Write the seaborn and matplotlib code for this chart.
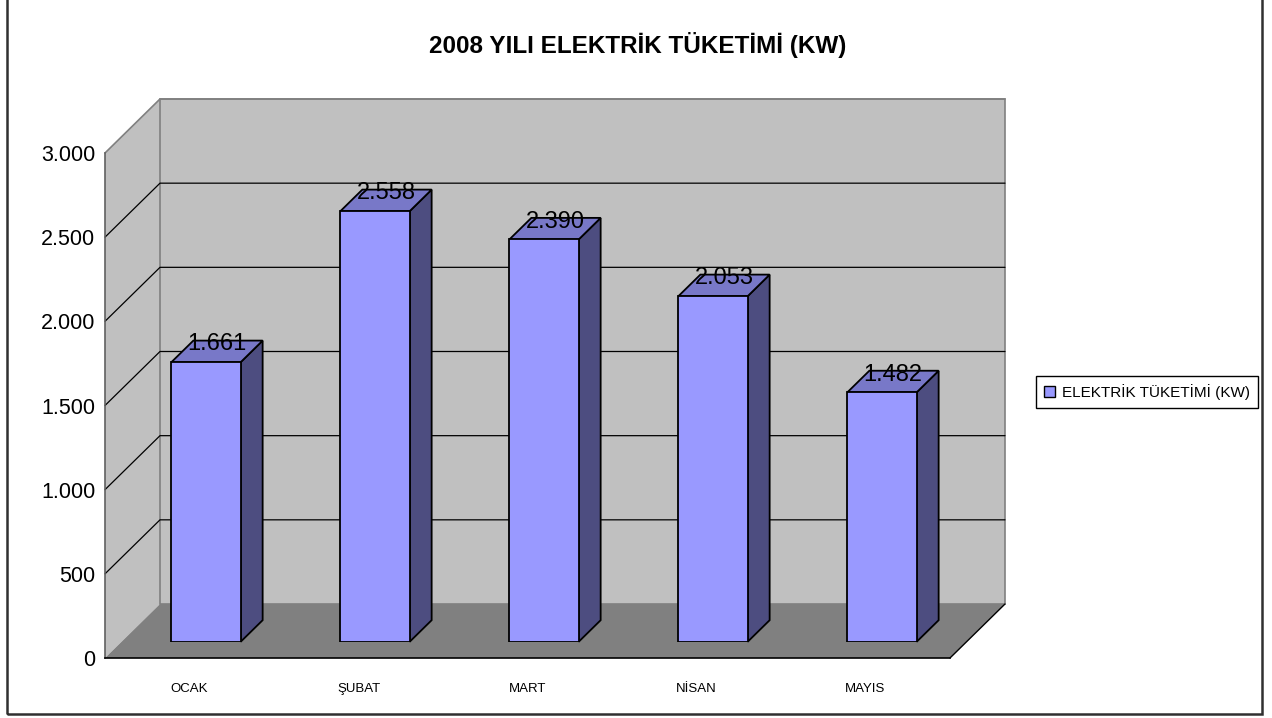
import numpy as np
import pandas as pd
import matplotlib
matplotlib.use("Agg")
import matplotlib.pyplot as plt
import seaborn as sns
from matplotlib.patches import Polygon, Rectangle, Patch
from matplotlib.lines import Line2D

# ---------------- data ----------------
months = ["OCAK", "ŞUBAT", "MART", "NİSAN", "MAYIS"]
consumption = [1661, 2558, 2390, 2053, 1482]
y_ticks = [0, 500, 1000, 1500, 2000, 2500, 3000]
y_tick_labels = ["0", "500", "1.000", "1.500", "2.000", "2.500", "3.000"]
series_name = "ELEKTRİK TÜKETİMİ (KW)"
chart_title = "2008 YILI ELEKTRİK TÜKETİMİ (KW)"

sns.set_style("white")
plt.rcParams['font.family'] = ['Liberation Sans', 'DejaVu Sans']
plt.rcParams['text.color'] = 'black'
plt.rcParams['xtick.color'] = 'black'
plt.rcParams['ytick.color'] = 'black'
plt.rcParams['axes.labelcolor'] = 'black'

W, H = 1272, 718
fig = plt.figure(figsize=(W / 100, H / 100), dpi=100)

# front plane in pixels
px0, px1 = 105, 950
py0, py1 = 658, 153
depth_px = (55, 54)
n = len(months)
ymax = y_ticks[-1]

ax = fig.add_axes([px0 / W, (H - py0) / H, (px1 - px0) / W, (py0 - py1) / H])
ax.set_xlim(-0.5, n - 0.5)
ax.set_ylim(0, ymax)
ax.patch.set_visible(False)

dx = depth_px[0] / (px1 - px0) * n
dy = depth_px[1] / (py0 - py1) * ymax
L, R = -0.5, n - 0.5

wall_c = "#C0C0C0"
floor_c = "#808080"
edge_c = "#808080"

# left wall
ax.add_patch(Polygon([(L, 0), (L + dx, dy), (L + dx, ymax + dy), (L, ymax)],
                     closed=True, facecolor=wall_c, edgecolor="none", clip_on=False, zorder=0))
# back wall
ax.add_patch(Rectangle((L + dx, dy), R - L, ymax, facecolor=wall_c, edgecolor=edge_c,
                       lw=1.2, clip_on=False, zorder=0.5))
# floor
ax.add_patch(Polygon([(L, 0), (R, 0), (R + dx, dy), (L + dx, dy)], closed=True,
                     facecolor=floor_c, edgecolor="none", clip_on=False, zorder=1))
# gridlines
for v in y_ticks[1:-1]:
    ax.add_line(Line2D([L, L + dx, R + dx], [v, v + dy, v + dy], color="black",
                       lw=0.9, clip_on=False, zorder=1.5))
ax.add_line(Line2D([L, L + dx, R + dx], [ymax, ymax + dy, ymax + dy], color=edge_c,
                   lw=1.2, clip_on=False, zorder=1.5))
ax.add_line(Line2D([R, R + dx], [0, dy], color="black", lw=1.0, clip_on=False, zorder=1.5))

# axes spines / ticks
for s in ["top", "right"]:
    ax.spines[s].set_visible(False)
ax.spines["left"].set_color("#606060")
ax.spines["left"].set_linewidth(1.2)
ax.spines["bottom"].set_color("black")
ax.spines["bottom"].set_linewidth(1.2)
ax.spines["left"].set_zorder(3)
ax.spines["bottom"].set_zorder(3)
ax.set_yticks(y_ticks)
ax.set_yticklabels(y_tick_labels, fontsize=15.5)
ax.tick_params(axis="y", direction="out", length=4, width=1, color="#404040", pad=3)
ax.set_xticks(np.arange(-0.5, n, 1.0))
ax.set_xticklabels([])
ax.tick_params(axis="x", which="major", direction="out", length=6, width=1, color="#404040")
ax.set_xticks(np.arange(n), minor=True)
ax.set_xticklabels(months, minor=True, fontsize=9.5)
ax.tick_params(axis="x", which="minor", length=0, pad=18)

# bar plane axes (shifted by 0.3 depth)
bf = 0.3
bx = fig.add_axes([(px0 + bf * depth_px[0]) / W, (H - py0 + bf * depth_px[1]) / H,
                   (px1 - px0) / W, (py0 - py1) / H])
df = pd.DataFrame({"month": months, "kw": consumption})
sns.barplot(data=df, x="month", y="kw", ax=bx, width=0.41, color="#9999FF",
            saturation=1, edgecolor="black", linewidth=1.3, zorder=3)
bx.set_xlim(-0.5, n - 0.5)
bx.set_ylim(0, ymax)
bx.axis("off")

bd = 0.4
ddx, ddy = bd * dx, bd * dy
for p, v in zip(bx.patches, consumption):
    x0 = p.get_x()
    w = p.get_width()
    h = p.get_height()
    x1 = x0 + w
    bx.add_patch(Polygon([(x1, 0), (x1 + ddx, ddy), (x1 + ddx, h + ddy), (x1, h)], closed=True,
                         facecolor="#4D4D80", edgecolor="black", lw=1.3, clip_on=False, zorder=2.5))
    bx.add_patch(Polygon([(x0, h), (x1, h), (x1 + ddx, h + ddy), (x0 + ddx, h + ddy)], closed=True,
                         facecolor="#7878C8", edgecolor="black", lw=1.3, clip_on=False, zorder=2.6))
    bx.text(x0 + w / 2 + ddx / 2, h + 0.33 * dy, f"{v:,}".replace(",", "."),
            ha="center", va="center", fontsize=17, color="black", zorder=5, clip_on=False)

# legend
fig.legend(handles=[Patch(facecolor="#9999FF", edgecolor="black", label=series_name)],
           loc="center", bbox_to_anchor=(1147 / W, 1 - 392 / H), frameon=True, fancybox=False,
           edgecolor="black", fontsize=11, handlelength=0.7, handleheight=0.7,
           handletextpad=0.5, borderpad=0.5, framealpha=1)

# title
fig.text(638 / W, 1 - 45 / H, chart_title, ha="center", va="center", fontsize=17.5,
         fontweight="bold", color="black")

# outer border
fig.add_artist(Rectangle((7 / W, (H - 714) / H), (1262 - 7) / W, (714 + 5) / H,
                         transform=fig.transFigure, facecolor="none", edgecolor="#303030",
                         lw=1.8, clip_on=False))

fig.savefig("out.png", dpi=100)
